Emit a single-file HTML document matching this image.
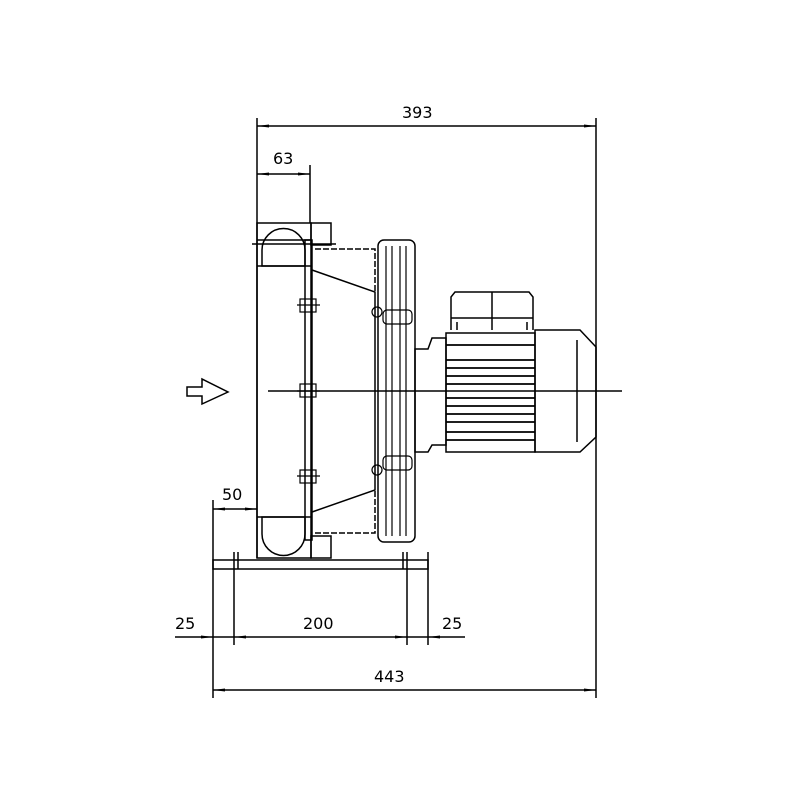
<!DOCTYPE html>
<html><head><style>body{margin:0;background:#fff}svg{display:block}text{font-family:"DejaVu Sans","Liberation Sans",sans-serif;font-size:16px;fill:#000}</style></head>
<body>
<svg width="800" height="800" viewBox="0 0 800 800" xmlns="http://www.w3.org/2000/svg">
<defs>
<marker id="a" markerWidth="12" markerHeight="6" refX="12" refY="3" orient="auto-start-reverse" markerUnits="userSpaceOnUse"><path d="M0,1.5 L12,3 L0,4.5z" fill="#000"/></marker>
</defs>
<g stroke="#000" fill="none" stroke-width="1.5">
<line x1="257" y1="118" x2="257" y2="558"/>
<line x1="596" y1="118" x2="596" y2="698"/>
<line x1="310" y1="165" x2="310" y2="223"/>
<line x1="213" y1="500" x2="213" y2="698"/>
<line x1="234" y1="552" x2="234" y2="645"/>
<line x1="407" y1="552" x2="407" y2="645"/>
<line x1="428" y1="552" x2="428" y2="645"/>
<line x1="257" y1="126" x2="596" y2="126" marker-start="url(#a)" marker-end="url(#a)"/>
<line x1="257" y1="174" x2="310" y2="174" marker-start="url(#a)" marker-end="url(#a)"/>
<line x1="213" y1="509" x2="257" y2="509" marker-start="url(#a)" marker-end="url(#a)"/>
<line x1="175" y1="637" x2="213" y2="637" marker-end="url(#a)"/>
<line x1="213" y1="637" x2="234" y2="637"/>
<line x1="234" y1="637" x2="407" y2="637" marker-start="url(#a)" marker-end="url(#a)"/>
<line x1="407" y1="637" x2="428" y2="637"/>
<line x1="465" y1="637" x2="428" y2="637" marker-end="url(#a)"/>
<line x1="213" y1="690" x2="596" y2="690" marker-start="url(#a)" marker-end="url(#a)"/>
<rect x="257" y="223" width="54" height="335"/>
<rect x="311" y="223" width="20" height="22"/>
<rect x="311" y="536" width="20" height="22"/>
<line x1="257" y1="240" x2="311" y2="240"/>
<path d="M262,266 V250 A21,21 0 0 1 305,250 V266 Z"/>
<line x1="257" y1="266" x2="311" y2="266"/>
<path d="M262,517 V534 A21,21 0 0 0 305,534 V517 Z"/>
<line x1="257" y1="517" x2="311" y2="517"/>
<line x1="252" y1="244" x2="336" y2="244"/>
<rect x="305" y="240" width="7" height="300"/>
<path d="M312,270 L375,292 L375,490 L312,512"/>
<path d="M315,249 H375 V292 M315,533 H375 V490" stroke-dasharray="6,2"/>
<g stroke-width="1.2">
<rect x="300" y="299" width="16" height="13"/><line x1="297" y1="305" x2="320" y2="305"/>
<rect x="300" y="384" width="16" height="13"/><line x1="297" y1="391" x2="320" y2="391"/>
<rect x="300" y="470" width="16" height="13"/><line x1="297" y1="476" x2="320" y2="476"/>
<circle cx="377" cy="312" r="5"/><circle cx="377" cy="470" r="5"/>
</g>
<rect x="378" y="240" width="37" height="302" rx="6"/>
<g stroke-width="1.2">
<line x1="386" y1="246" x2="386" y2="536"/>
<line x1="392" y1="246" x2="392" y2="536"/>
<line x1="400" y1="246" x2="400" y2="536"/>
<line x1="406" y1="246" x2="406" y2="536"/>
<rect x="383" y="310" width="29" height="14" rx="4"/>
<rect x="383" y="456" width="29" height="14" rx="4"/>
</g>
<path d="M415,349 H428 L432,338 H446 V445 H432 L428,452 H415 Z"/>
<path d="M446,333 H535 V452 H446 Z"/>
<path d="M535,330 H580 L596,347 V437 L580,452 H535 Z"/>
<line x1="577" y1="340" x2="577" y2="442"/>
<path d="M451,330 V297 L455,292 H529 L533,297 V330"/>
<line x1="451" y1="318" x2="533" y2="318"/>
<line x1="492" y1="292" x2="492" y2="330"/>
<line x1="457" y1="322" x2="457" y2="330"/><line x1="527" y1="322" x2="527" y2="330"/>
<g stroke-width="1.8">
<line x1="446" y1="345" x2="535" y2="345"/>
<line x1="446" y1="360" x2="535" y2="360"/>
<line x1="446" y1="368" x2="535" y2="368"/>
<line x1="446" y1="376" x2="535" y2="376"/>
<line x1="446" y1="384" x2="535" y2="384"/>
<line x1="446" y1="398" x2="535" y2="398"/>
<line x1="446" y1="406" x2="535" y2="406"/>
<line x1="446" y1="414" x2="535" y2="414"/>
<line x1="446" y1="422" x2="535" y2="422"/>
<line x1="446" y1="432" x2="535" y2="432"/>
<line x1="446" y1="440" x2="535" y2="440"/>
</g>
<line x1="268" y1="391" x2="622" y2="391"/>
<rect x="213" y="560" width="215" height="9"/>
<line x1="238" y1="552" x2="238" y2="569"/><line x1="403" y1="552" x2="403" y2="569"/>
<path d="M187,387 H202 V379 L228,392 L202,404 V396 H187 Z"/>
</g>
<g>
<text x="402" y="118">393</text>
<text x="273" y="164">63</text>
<text x="222" y="500">50</text>
<text x="175" y="629">25</text>
<text x="303" y="629">200</text>
<text x="442" y="629">25</text>
<text x="374" y="682">443</text>
</g>
</svg>
</body></html>
